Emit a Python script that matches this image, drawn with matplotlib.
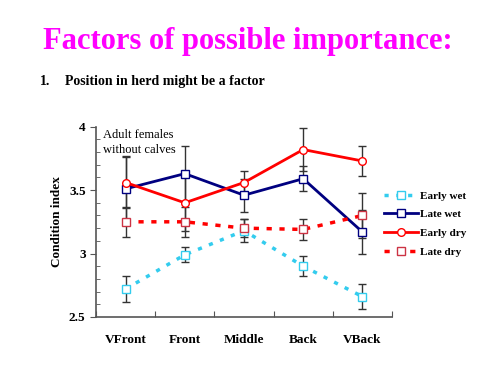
import numpy as np
import matplotlib.pyplot as plt
from matplotlib.lines import Line2D

plt.rcParams['font.family'] = ['Liberation Serif', 'DejaVu Serif']

positions = ['VFront', 'Front', 'Middle', 'Back', 'VBack']
early_wet = [2.72, 2.99, 3.18, 2.90, 2.66]
early_wet_err = [0.10, 0.06, 0.09, 0.08, 0.10]
late_wet = [3.51, 3.63, 3.46, 3.59, 3.17]
late_wet_err = [0.26, 0.22, 0.13, 0.10, 0.17]
early_dry = [3.56, 3.40, 3.56, 3.82, 3.73]
early_dry_err = [0.20, 0.22, 0.09, 0.17, 0.12]
late_dry = [3.25, 3.25, 3.20, 3.19, 3.30]
late_dry_err = [0.12, 0.12, 0.07, 0.085, 0.18]

x = np.arange(len(positions)) + 0.5

fig = plt.figure(figsize=(5, 3.75), dpi=100)
ax = fig.add_axes([0.192, 0.155, 0.592, 0.507])

ekw = dict(ecolor='#333333', elinewidth=1, capsize=3, capthick=1)
cyan = '#33CCEE'
navy = '#000080'
red = '#FF0000'

styles = [
    ('Early wet', early_wet, early_wet_err,
     dict(color=cyan, lw=2.5, ls=(0, (1.2, 2.2)), marker='s', mec=cyan)),
    ('Late wet', late_wet, late_wet_err,
     dict(color=navy, lw=2, ls='-', marker='s', mec=navy)),
    ('Early dry', early_dry, early_dry_err,
     dict(color=red, lw=2, ls='-', marker='o', mec=red)),
    ('Late dry', late_dry, late_dry_err,
     dict(color=red, lw=2.5, ls=(0, (1.5, 2.2)), marker='s', mec='#CC3344')),
]

handles = []
for name, vals, errs, st in styles:
    ax.errorbar(x, vals, yerr=errs, ms=5.5, mfc='white', mew=1, **st, **ekw)
    handles.append(Line2D([], [], ms=5.5, mfc='white', mew=1, **st))

ax.set_xlim(0, 5)
ax.set_ylim(2.5, 4)
ax.spines['top'].set_visible(False)
ax.spines['right'].set_visible(False)
for s in ['left', 'bottom']:
    ax.spines[s].set_color('#555555')
    ax.spines[s].set_linewidth(1.2)

ax.set_xticks(np.arange(0, 6))
ax.set_xticklabels([])
ax.set_xticks(x, minor=True)
ax.set_xticklabels(positions, minor=True, fontweight='bold', fontsize=9.5)
ax.tick_params(axis='x', which='major', direction='in', length=4, color='#555555')
ax.tick_params(axis='x', which='minor', length=0, pad=12)

ax.set_yticks([2.5, 3, 3.5, 4])
ax.set_yticklabels(['2.5', '3', '3.5', '4'], fontweight='bold', fontsize=9.5)
ax.set_yticks(np.arange(2.5, 4.01, 0.1), minor=True)
ax.tick_params(axis='y', which='major', direction='out', length=4, color='#555555')
ax.tick_params(axis='y', which='minor', direction='in', length=3, color='#555555')
ax.set_ylabel('Condition index', fontweight='bold', fontsize=9.5, labelpad=4)

ax.text(0.12, 3.98, 'Adult females\nwithout calves', fontsize=9, va='top', ha='left',
        linespacing=1.25)

ax.legend(handles, [s[0] for s in styles], loc='center left',
          bbox_to_anchor=(0.94, 0.49), frameon=False,
          handlelength=3, handletextpad=0.2, labelspacing=0.8,
          prop={'weight': 'bold', 'size': 8})

fig.text(0.495, 0.888, 'Factors of possible importance:', color='#FF00FF',
         fontsize=22, fontweight='bold', ha='center', va='center')
fig.text(0.08, 0.782, '1.', fontsize=10, fontweight='bold', va='center')
fig.text(0.13, 0.782, 'Position in herd might be a factor', fontsize=10,
         fontweight='bold', va='center')

fig.savefig('out.png', dpi=100)
